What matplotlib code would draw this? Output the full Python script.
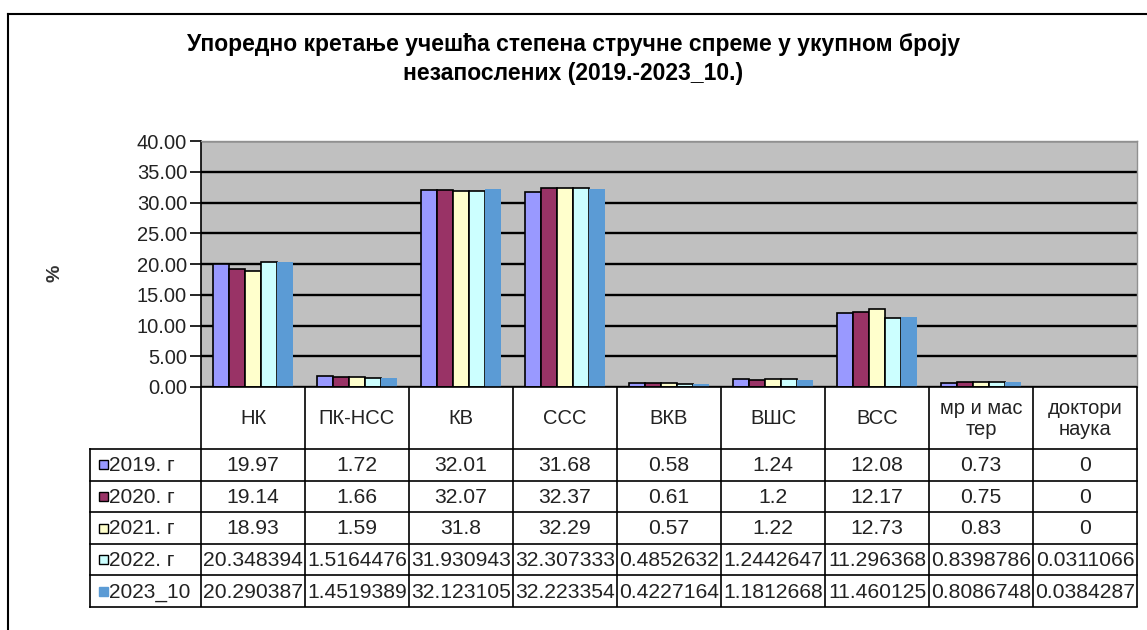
import matplotlib.pyplot as plt
from matplotlib.patches import Rectangle
from matplotlib.lines import Line2D
import numpy as np

plt.rcParams['font.family'] = ['Liberation Sans', 'DejaVu Sans']

categories = ["НК", "ПК-НСС", "КВ", "ССС", "ВКВ", "ВШС", "ВСС",
              "мр и мас\nтер", "доктори\nнаука"]
series_names = ["2019. г", "2020. г", "2021. г", "2022. г", "2023_10"]
v2019 = [19.97, 1.72, 32.01, 31.68, 0.58, 1.24, 12.08, 0.73, 0]
v2020 = [19.14, 1.66, 32.07, 32.37, 0.61, 1.2, 12.17, 0.75, 0]
v2021 = [18.93, 1.59, 31.8, 32.29, 0.57, 1.22, 12.73, 0.83, 0]
v2022 = [20.348394, 1.5164476, 31.930943, 32.307333, 0.4852632,
         1.2442647, 11.296368, 0.8398786, 0.0311066]
v2023 = [20.290387, 1.4519389, 32.123105, 32.223354, 0.4227164,
         1.1812668, 11.460125, 0.8086748, 0.0384287]
series = [v2019, v2020, v2021, v2022, v2023]
colors = ['#9999FF', '#993366', '#FFFFCC', '#CCFFFF', '#5B9BD5']
yticks = [0, 5, 10, 15, 20, 25, 30, 35, 40]

title = ("Упоредно кретање учешћа степена стручне спреме у укупном броју\n"
         "незапослених (2019.-2023_10.)")


def fmt(v):
    return ('%.7f' % v).rstrip('0').rstrip('.')


W, H = 1147, 630
fig = plt.figure(figsize=(W / 100, H / 100), dpi=100)

# outer chart frame (left and top visible)
fig.add_artist(Line2D([8 / W, 8 / W], [0, 1 - 14 / H], color='black', lw=1.5))
fig.add_artist(Line2D([8 / W, 1], [1 - 14 / H, 1 - 14 / H], color='black', lw=1.5))

fig.text(0.5, 1 - 59 / H, title, ha='center', va='center', fontsize=16.5,
         fontweight='bold', linespacing=1.3)

# plot area
ax = fig.add_axes([201 / W, 1 - 387 / H, (1137 - 201) / W, (387 - 141) / H])
ax.set_facecolor('#C0C0C0')
ax.set_xlim(-0.5, 8.5)
ax.set_ylim(0, 40)
ax.set_yticks(yticks)
ax.set_yticklabels(['%.2f' % t for t in yticks], fontsize=14.5, color='#222222')
ax.set_xticks([])
ax.tick_params(axis='y', length=8, width=1.2, direction='out', pad=2)
ax.yaxis.grid(True, color='black', lw=1.7)
ax.set_axisbelow(True)
for s in ['top', 'right']:
    ax.spines[s].set_color('#909090')
    ax.spines[s].set_linewidth(1)
ax.spines['left'].set_linewidth(1.2)
ax.spines['bottom'].set_linewidth(1.2)

x = np.arange(len(categories))
w = 0.152
for i, (vals, c) in enumerate(zip(series, colors)):
    if i < 4:
        ax.bar(x + (i - 2) * w, vals, w, color=c, edgecolor='black', linewidth=1.2)
    else:
        ax.bar(x + (i - 2) * w, vals, w, color=c, linewidth=0)

fig.text(55 / W, 1 - 273 / H, '%', rotation=90, ha='center', va='center',
         fontsize=14, fontweight='bold', color='#333333')

# data table
px = 104.0
x0 = -0.5 - 111 / px
tax = fig.add_axes([90 / W, 1 - 607 / H, (1137 - 90) / W, (607 - 387) / H])
tax.set_xlim(x0, 8.5)
tax.set_ylim(220, 0)
tax.axis('off')
hh = 62
rh = (220 - hh) / 5
lw = 1.2
for k in range(10):
    tax.plot([-0.5 + k, -0.5 + k], [0, 220], color='black', lw=lw,
             solid_capstyle='butt', clip_on=False)
tax.plot([x0, x0], [hh, 220], color='black', lw=lw, clip_on=False)
for r in range(6):
    y = hh + r * rh
    tax.plot([x0, 8.5], [y, y], color='black', lw=lw, clip_on=False)

for i, cat in enumerate(categories):
    tax.text(i, hh / 2 + 1, cat, ha='center', va='center', fontsize=14.5,
             linespacing=1.15, color='#222222')

for r, (name, vals, c) in enumerate(zip(series_names, series, colors)):
    yc = hh + (r + 0.5) * rh
    ec = 'black' if r < 4 else c
    tax.add_patch(Rectangle((x0 + 9 / px, yc - 4.5), 9 / px, 9,
                            facecolor=c, edgecolor=ec, lw=1))
    tax.text(x0 + 19 / px, yc + 1, name, ha='left', va='center', fontsize=15,
             color='#222222')
    for i, v in enumerate(vals):
        tax.text(i, yc + 1, fmt(v), ha='center', va='center', fontsize=15.2,
                 color='#222222')

fig.savefig('out.png', dpi=100)
